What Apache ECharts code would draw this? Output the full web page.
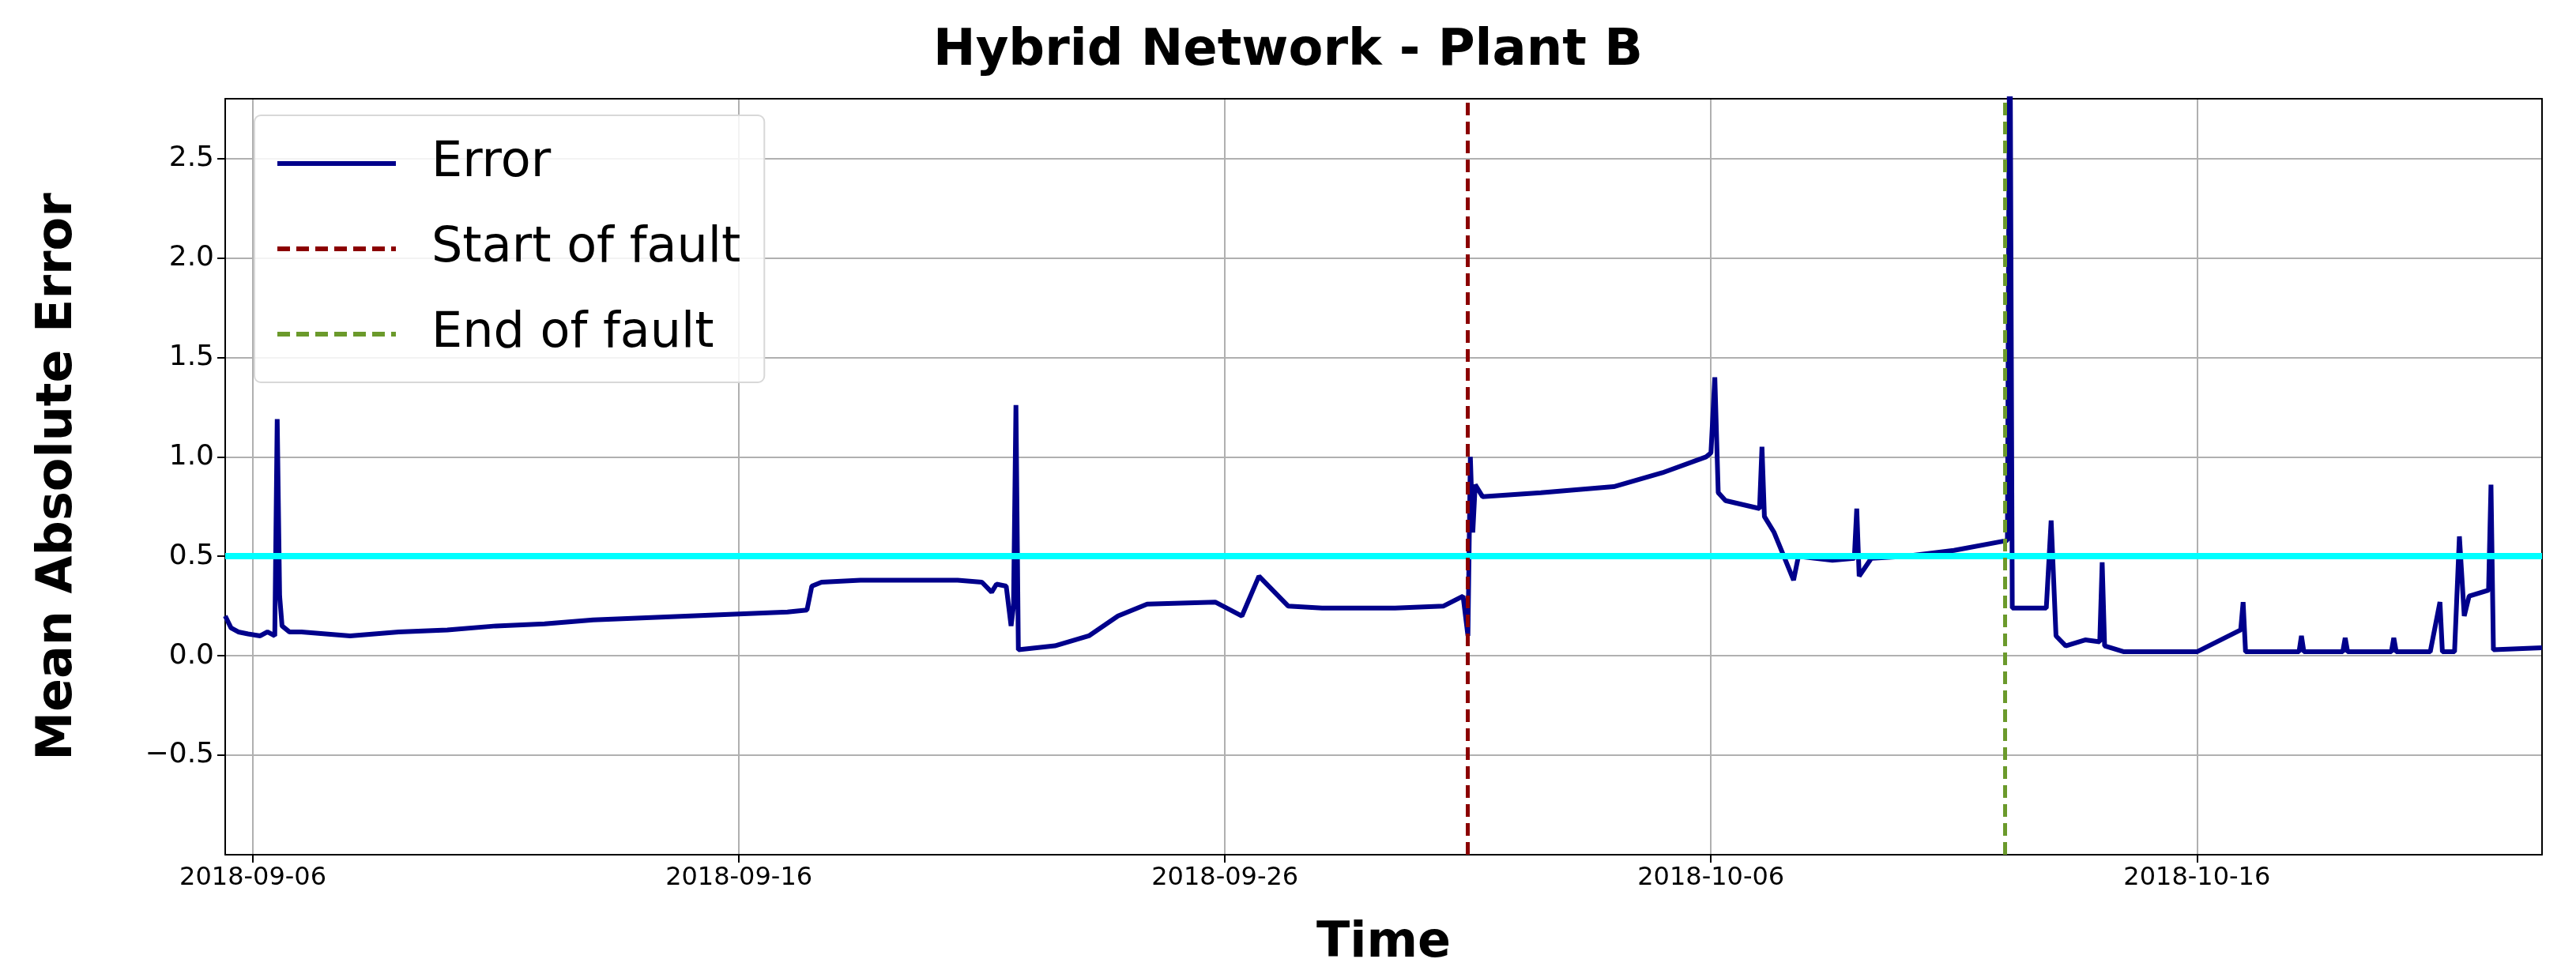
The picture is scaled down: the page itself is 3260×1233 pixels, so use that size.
<!DOCTYPE html>
<html><head><meta charset="utf-8">
<script src="https://cdn.jsdelivr.net/npm/echarts@6/dist/echarts.min.js"></script>
<style>html,body{margin:0;padding:0;background:#fff}#c{width:3260px;height:1233px}</style>
</head><body><div id="c"></div>
<script>
// days since 2018-09-06 00:00
const dayOffsets = [
 -0.57,-0.45,-0.3,-0.1,0.15,0.3,0.45,0.5,0.55,0.6,
 0.75,1,1.5,2,3,4,5,6,7,8,
 9,10,11,11.4,11.5,11.7,12.5,14.5,15.0,15.2,
 15.3,15.5,15.6,15.65,15.7,15.75,16.5,17.2,17.8,18.4,
 19.8,20.35,20.7,21.3,22,23.5,24.5,24.9,25.0,25.05,
 25.1,25.15,25.3,26.5,28,29,29.9,30.0,30.08,30.15,
 30.3,31.0,31.05,31.1,31.3,31.5,31.7,31.8,32.5,32.95,
 33.0,33.05,33.3,34,35,36.1,36.15,36.2,36.9,37.0,
 37.1,37.3,37.7,38.0,38.05,38.1,38.5,40,40.9,40.95,
 41.0,42.1,42.15,42.2,43,43.05,43.1,44,44.05,44.1,
 44.8,45.0,45.05,45.3,45.4,45.5,45.6,46.0,46.05,46.1,
 47.1];
const errorValues = [
 0.2,0.14,0.12,0.11,0.1,0.12,0.1,1.19,0.3,0.15,
 0.12,0.12,0.11,0.1,0.12,0.13,0.15,0.16,0.18,0.19,
 0.2,0.21,0.22,0.23,0.35,0.37,0.38,0.38,0.37,0.32,
 0.36,0.35,0.15,0.25,1.26,0.03,0.05,0.1,0.2,0.26,
 0.27,0.2,0.4,0.25,0.24,0.24,0.25,0.3,0.1,1.0,
 0.62,0.86,0.8,0.82,0.85,0.92,1.0,1.02,1.4,0.82,
 0.78,0.74,1.05,0.7,0.62,0.5,0.38,0.5,0.48,0.49,
 0.74,0.4,0.49,0.5,0.53,0.58,3.5,0.24,0.24,0.68,
 0.1,0.05,0.08,0.07,0.47,0.05,0.02,0.02,0.13,0.27,
 0.02,0.02,0.1,0.02,0.02,0.09,0.02,0.02,0.09,0.02,
 0.02,0.27,0.02,0.02,0.6,0.2,0.3,0.33,0.86,0.03,
 0.04];
const xTickDays = [0,10,20,30,40];
const xTickLabels = ['2018-09-06','2018-09-16','2018-09-26','2018-10-06','2018-10-16'];
const faultStartDay = 25.0;
const faultEndDay = 36.05;
const threshold = 0.5;
const seriesNames = ['Error','Start of fault','End of fault'];

const errData = dayOffsets.map((d,i)=>[d,errorValues[i]]);
const chart = echarts.init(document.getElementById('c'));
const font = 'DejaVu Sans';
const frameAxis = {axisLine:{show:true,onZero:false,lineStyle:{color:'#000',width:2}},axisTick:{show:false},axisLabel:{show:false},splitLine:{show:false}};
chart.setOption({
  animation:false,
  title:{text:'Hybrid Network - Plant B',left:'center',top:28,textStyle:{fontFamily:font,fontWeight:'bold',fontSize:64,color:'#000'}},
  grid:{left:285,right:43,top:125,bottom:151},
  legend:{orient:'vertical',left:322,top:146,padding:[30,30,30,26],itemGap:46,itemWidth:150,itemHeight:20,
    itemStyle:{opacity:0},lineStyle:{width:6},
    backgroundColor:'rgba(255,255,255,0.85)',borderColor:'#d8d8d8',borderWidth:2,borderRadius:8,
    textStyle:{fontFamily:font,fontSize:62,color:'#000',padding:[0,0,0,40]},data:seriesNames},
  xAxis:[{type:'value',min:-0.57,max:47.1,
    axisLine:{onZero:false,lineStyle:{color:'#000',width:2}},
    axisTick:{customValues:xTickDays,length:10,lineStyle:{color:'#000',width:2}},
    axisLabel:{customValues:xTickDays,formatter:v=>xTickLabels[xTickDays.indexOf(v)]||'',fontFamily:font,fontSize:32,color:'#000',margin:14},
    splitLine:{show:true,lineStyle:{color:'#b0b0b0',width:2}},
    name:'Time',nameLocation:'middle',nameGap:82,nameTextStyle:{fontFamily:font,fontWeight:'bold',fontSize:62,color:'#000'}},
    Object.assign({type:'value',position:'top',min:-0.57,max:47.1},frameAxis)],
  yAxis:[{type:'value',min:-1.0,max:2.8,interval:0.5,
    axisLine:{show:true,onZero:false,lineStyle:{color:'#000',width:2}},
    axisTick:{show:true,length:10,lineStyle:{color:'#000',width:2}},
    axisLabel:{showMinLabel:false,showMaxLabel:false,formatter:v=>v<=-1?'':(v<0?'\u22120.5':v.toFixed(1)),fontFamily:font,fontSize:36,color:'#000',margin:14},
    splitLine:{show:true,lineStyle:{color:'#b0b0b0',width:2}},
    name:'Mean Absolute Error',nameLocation:'middle',nameGap:180,nameTextStyle:{fontFamily:font,fontWeight:'bold',fontSize:62,color:'#000'}},
    Object.assign({type:'value',position:'right',min:-1.0,max:2.8},frameAxis)],
  series:[
    {name:seriesNames[0],type:'line',data:errData,symbol:'none',lineStyle:{color:'#00008b',width:6},itemStyle:{color:'#00008b'},z:3,
     markLine:{silent:true,symbol:'none',label:{show:false},lineStyle:{color:'#00ffff',width:8,type:'solid'},data:[{yAxis:threshold}],z:4}},
    {name:seriesNames[1],type:'line',data:[],symbol:'none',lineStyle:{color:'#8b0000',width:5,type:[16,8]},itemStyle:{color:'#8b0000'},
     markLine:{silent:true,symbol:'none',label:{show:false},lineStyle:{color:'#8b0000',width:5,type:[16,8]},data:[{xAxis:faultStartDay}]}},
    {name:seriesNames[2],type:'line',data:[],symbol:'none',lineStyle:{color:'#6b9a2b',width:5,type:[16,8]},itemStyle:{color:'#6b9a2b'},
     markLine:{silent:true,symbol:'none',label:{show:false},lineStyle:{color:'#6b9a2b',width:5,type:[16,8]},data:[{xAxis:faultEndDay}]}}
  ]
});
</script></body></html>
